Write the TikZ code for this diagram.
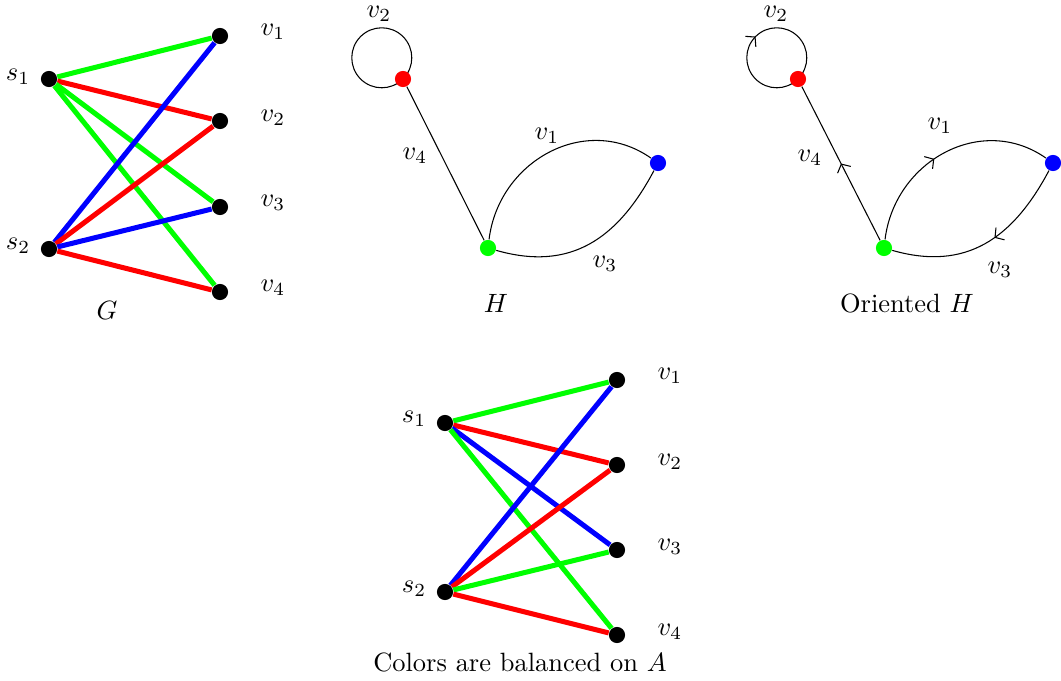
\documentclass[tikz,border=0pt]{standalone}
\usetikzlibrary{decorations.markings,arrows.meta}
\pgfdeclarelayer{background}
\pgfsetlayers{background,main}
\definecolor{gG}{RGB}{0,255,0}
\definecolor{rR}{RGB}{255,0,0}
\definecolor{bB}{RGB}{0,0,255}
\begin{document}
\begin{tikzpicture}[x=0.378pt,y=0.378pt,
  dot/.style={circle,fill=black,inner sep=0pt,minimum size=6.1pt},
  cdot/.style={circle,fill=#1,inner sep=0pt,minimum size=6.1pt},
  ge/.style={line width=1.9pt,draw=#1},
  thin edge/.style={line width=0.4pt},
  upper arc/.style={out=83,in=145,looseness=1.12},
  lower arc/.style={out=-16,in=-118,looseness=1.12},
  lower arc rev/.style={out=-118,in=-16,looseness=1.12},
  midarrow/.style={postaction={decorate},decoration={markings,mark=at position #1 with {\arrow{Straight Barb[length=2.4pt,width=5.6pt]}}}},
  lab/.style={inner sep=0pt}]
\useasboundingbox (0,0) rectangle (1061,-681);

% ---------- G ----------
\node[dot] (gs1) at (49,-79) {};
\node[dot] (gs2) at (49,-249) {};
\node[dot] (gv1) at (220,-36) {};
\node[dot] (gv2) at (220,-121) {};
\node[dot] (gv3) at (220,-207) {};
\node[dot] (gv4) at (220,-292) {};
\node[lab] (lgs1) at (18,-77) {$s_1$};
\node[lab] (lgs2) at (18,-246) {$s_2$};
\node[lab] (lgv1) at (273,-32) {$v_1$};
\node[lab] (lgv2) at (273,-118) {$v_2$};
\node[lab] (lgv3) at (273,-203) {$v_3$};
\node[lab] (lgv4) at (273,-288) {$v_4$};
\node[lab] (capG) at (107,-310) {$G$};
\begin{pgfonlayer}{background}
\draw[ge=gG] (gs1) -- (gv1);
\draw[ge=rR] (gs1) -- (gv2);
\draw[ge=gG] (gs1) -- (gv3);
\draw[ge=gG] (gs1) -- (gv4);
\draw[ge=bB] (gs2) -- (gv1);
\draw[ge=rR] (gs2) -- (gv2);
\draw[ge=bB] (gs2) -- (gv3);
\draw[ge=rR] (gs2) -- (gv4);
\end{pgfonlayer}

% ---------- H ----------
\node[cdot=rR] (hr) at (403,-79) {};
\node[cdot=gG] (hg) at (488,-248) {};
\node[cdot=bB] (hb) at (658,-163) {};
\node[lab] (lhv2) at (379,-14) {$v_2$};
\node[lab] (lhv4) at (415,-156) {$v_4$};
\node[lab] (lhv1) at (547,-136) {$v_1$};
\node[lab] (lhv3) at (605,-264) {$v_3$};
\node[lab] (capH) at (496,-303) {$H$};
\begin{pgfonlayer}{background}
\draw[thin edge] (hr.center) arc[start angle=-45,end angle=-405,radius=30];
\draw[thin edge] (hg) -- (hr);
\draw[thin edge] (hg) to[upper arc] (hb);
\draw[thin edge] (hg) to[lower arc] (hb);
\end{pgfonlayer}

% ---------- Oriented H ----------
\node[cdot=rR] (or) at (798,-79) {};
\node[cdot=gG] (og) at (884,-248) {};
\node[cdot=bB] (ob) at (1053,-163) {};
\node[lab] (lov2) at (776,-14) {$v_2$};
\node[lab] (lov4) at (810,-158) {$v_4$};
\node[lab] (lov1) at (940,-126) {$v_1$};
\node[lab] (lov3) at (1000,-270) {$v_3$};
\node[lab] (capOH) at (907,-303) {Oriented $H$};
\begin{pgfonlayer}{background}
\draw[thin edge,midarrow=0.5] (or.center) arc[start angle=-45,end angle=-405,radius=30];
\draw[thin edge,midarrow=0.5] (og) -- (or);
\draw[thin edge,midarrow=0.45] (og) to[upper arc] (ob);
\draw[thin edge,midarrow=0.45] (ob) to[lower arc rev] (og);
\end{pgfonlayer}

% ---------- Balanced ----------
\node[dot] (bs1) at (445,-423) {};
\node[dot] (bs2) at (445,-592) {};
\node[dot] (bv1) at (617,-380) {};
\node[dot] (bv2) at (617,-465) {};
\node[dot] (bv3) at (617,-550) {};
\node[dot] (bv4) at (617,-635) {};
\node[lab] (lbs1) at (414,-419) {$s_1$};
\node[lab] (lbs2) at (414,-589) {$s_2$};
\node[lab] (lbv1) at (670,-376) {$v_1$};
\node[lab] (lbv2) at (670,-462) {$v_2$};
\node[lab] (lbv3) at (670,-547) {$v_3$};
\node[lab] (lbv4) at (670,-632) {$v_4$};
\node[lab] (capA) at (520,-662) {Colors are balanced on $A$};
\begin{pgfonlayer}{background}
\draw[ge=gG] (bs1) -- (bv1);
\draw[ge=rR] (bs1) -- (bv2);
\draw[ge=bB] (bs1) -- (bv3);
\draw[ge=gG] (bs1) -- (bv4);
\draw[ge=bB] (bs2) -- (bv1);
\draw[ge=rR] (bs2) -- (bv2);
\draw[ge=gG] (bs2) -- (bv3);
\draw[ge=rR] (bs2) -- (bv4);
\end{pgfonlayer}
\end{tikzpicture}
\end{document}
